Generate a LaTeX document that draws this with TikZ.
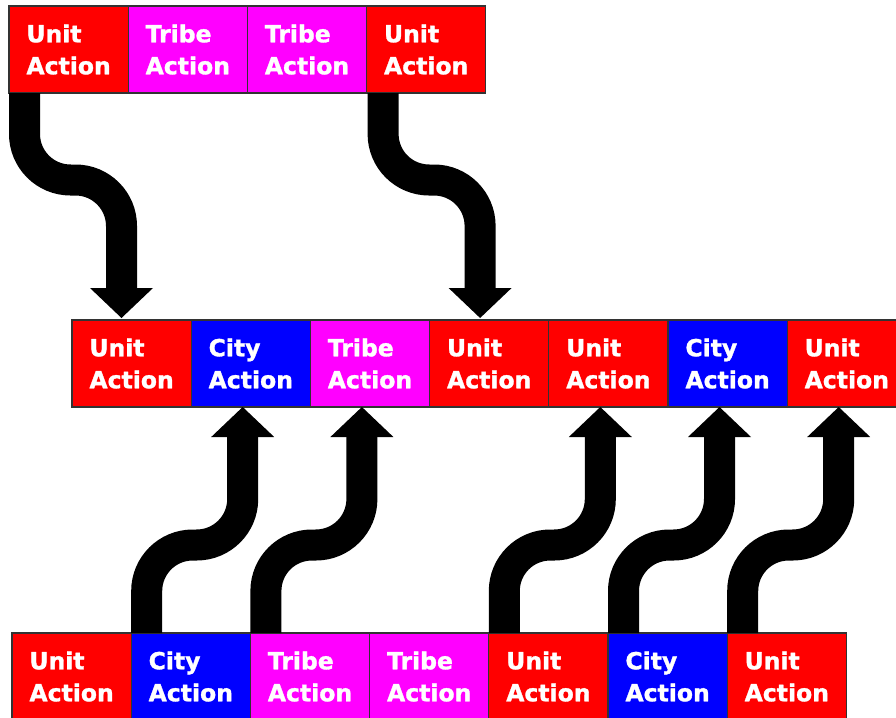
\documentclass[tikz,border=0pt]{standalone}
\usepackage{fontspec}
\newfontfamily\boxfont{DejaVu Sans}[BoldFeatures={FakeBold=1.3}]
\usetikzlibrary{arrows.meta,calc}
\definecolor{ured}{RGB}{255,0,0}
\definecolor{tmag}{RGB}{255,0,255}
\definecolor{cblue}{RGB}{0,0,255}
\tikzset{
  act/.style={draw=black!80, line width=1.3pt, minimum width=119.2pt, minimum height=87pt,
    inner sep=0pt, outer sep=0pt, anchor=west, text=white, align=left,
    font=\boxfont\bfseries\fontsize{23.5}{32}\selectfont},
  unitbox/.style={act, fill=ured},
  tribebox/.style={act, fill=tmag},
  citybox/.style={act, fill=cblue},
  flow/.style={line width=31pt, rounded corners=46pt,
    -{Triangle[width=63pt,length=30pt,line width=0pt]}},
}
\begin{document}
\begin{tikzpicture}[x=1pt,y=-1pt]
\useasboundingbox (0,0) rectangle (896,717);
% top row
\node[unitbox]  (t1) at (9,49.5) {Unit\\Action};
\node[tribebox] (t2) at (t1.east) {Tribe\\Action};
\node[tribebox] (t3) at (t2.east) {Tribe\\Action};
\node[unitbox]  (t4) at (t3.east) {Unit\\Action};
% middle row
\node[unitbox]  (m1) at (72,363.5) {Unit\\Action};
\node[citybox]  (m2) at (m1.east) {City\\Action};
\node[tribebox] (m3) at (m2.east) {Tribe\\Action};
\node[unitbox]  (m4) at (m3.east) {Unit\\Action};
\node[unitbox]  (m5) at (m4.east) {Unit\\Action};
\node[citybox]  (m6) at (m5.east) {City\\Action};
\node[unitbox]  (m7) at (m6.east) {Unit\\Action};
% bottom row
\node[unitbox]  (b1) at (12,676.5) {Unit\\Action};
\node[citybox]  (b2) at (b1.east) {City\\Action};
\node[tribebox] (b3) at (b2.east) {Tribe\\Action};
\node[tribebox] (b4) at (b3.east) {Tribe\\Action};
\node[unitbox]  (b5) at (b4.east) {Unit\\Action};
\node[citybox]  (b6) at (b5.east) {City\\Action};
\node[unitbox]  (b7) at (b6.east) {Unit\\Action};
% top arrows
\draw[flow] ($(t1.south west)+(15.5,0)$) -- ++(0,87) -- ++(97,0) coordinate (k1) -- ($(k1 |- m1.north)+(0,-2)$);
\draw[flow] ($(t4.south west)+(16.5,0)$) -- ++(0,87) -- ++(97,0) coordinate (k2) -- ($(k2 |- m4.north)+(0,-2)$);
% bottom arrows
\draw[flow] ($(b2.north west)+(15.5,0)$) -- ++(0,-88) -- ++(96,0) coordinate (k3) -- (k3 |- m2.south);
\draw[flow] ($(b3.north west)+(15.5,0)$) -- ++(0,-88) -- ++(96,0) coordinate (k4) -- (k4 |- m3.south);
\draw[flow] ($(b5.north west)+(15.5,0)$) -- ++(0,-88) -- ++(96,0) coordinate (k5) -- (k5 |- m5.south);
\draw[flow] ($(b6.north west)+(15.5,0)$) -- ++(0,-88) -- ++(96,0) coordinate (k6) -- (k6 |- m6.south);
\draw[flow] ($(b7.north west)+(15.5,0)$) -- ++(0,-88) -- ++(96,0) coordinate (k7) -- (k7 |- m7.south);
\end{tikzpicture}
\end{document}
